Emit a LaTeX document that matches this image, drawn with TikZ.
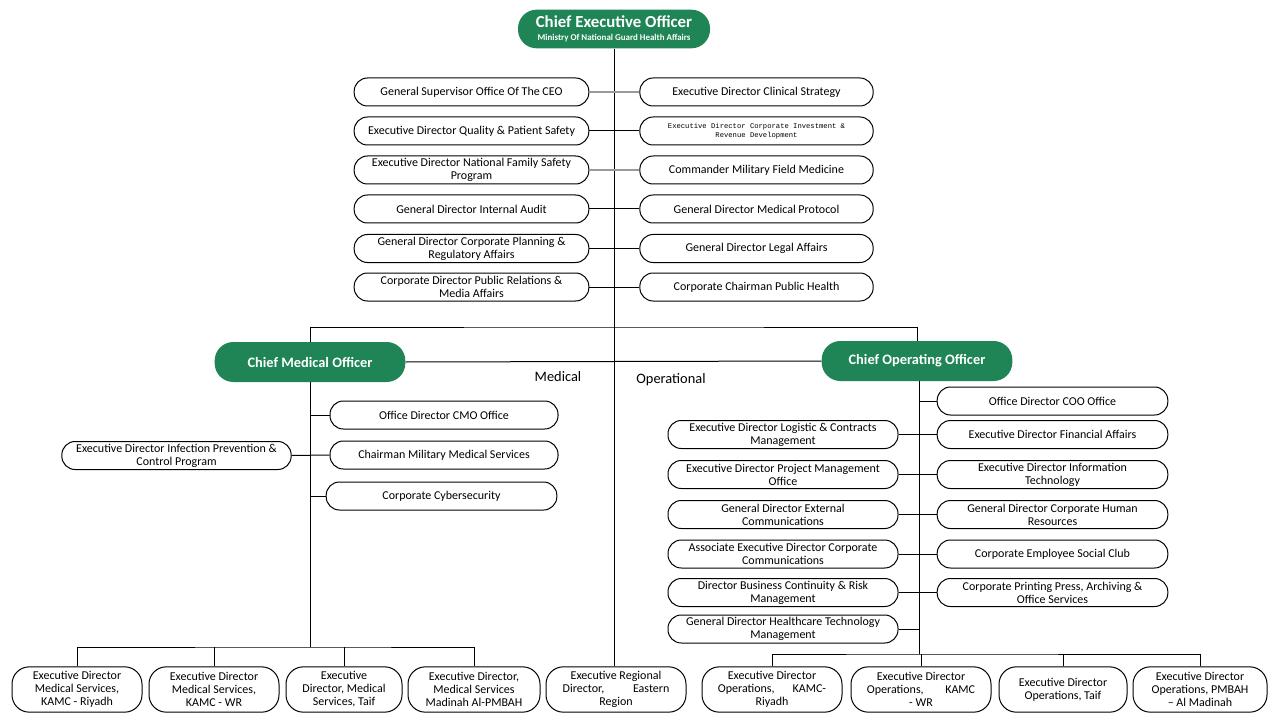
\documentclass[tikz,border=0pt]{standalone}
\usepackage{fontspec}
\setmainfont{Carlito}
\newfontfamily\tinymono{Liberation Mono}
\usetikzlibrary{positioning}

\definecolor{ngGreen}{RGB}{31,132,86}

\begin{document}
\begin{tikzpicture}[
    x=0.75pt, y=-0.75pt,
    unit/.style   = {draw, line width=0.75pt, rounded corners=10pt,
                     minimum height=21pt, inner xsep=2pt, inner ysep=0.5pt,
                     align=center, font=\fontsize{9}{9.8}\selectfont},
    chief/.style  = {fill=ngGreen, text=white, rounded corners=14pt,
                     minimum width=143pt, minimum height=30pt, align=center,
                     font=\bfseries\fontsize{10.8}{12}\selectfont},
    region/.style = {unit, rounded corners=13pt, minimum height=34pt},
    branch/.style = {font=\fontsize{10.8}{12}\selectfont},
    link/.style   = {line width=0.75pt},
    glink/.style  = {line width=1.5pt, draw=gray!80}
]
\useasboundingbox (0,0) rectangle (1280,720);

% ========= top level =========
\node[chief, minimum width=144pt, minimum height=29pt, inner ysep=1pt] (ceo) at (614,29)
    {{\fontsize{12.6}{13}\selectfont Chief Executive Officer}\\[-2pt]
     {\fontsize{6.7}{7}\selectfont Ministry Of National Guard Health Affairs}};
\node[chief] (cmo) at (310,362) {Chief Medical Officer};
\node[chief] (coo) at (917,361) {Chief Operating Officer};

% ========= CEO office: two columns =========
\node[unit, minimum width=176pt] (gsup)  at (471.5,92)    {General Supervisor Office Of The CEO};
\node[unit, minimum width=176pt] (qps)   at (471.5,131)   {Executive Director Quality \& Patient Safety};
\node[unit, minimum width=176pt] (nfsp)  at (471.5,170)   {Executive Director National Family Safety\\Program};
\node[unit, minimum width=176pt] (audit) at (471.5,209)   {General Director Internal Audit};
\node[unit, minimum width=176pt] (plan)  at (471.5,248.5) {General Director Corporate Planning \&\\Regulatory Affairs};
\node[unit, minimum width=176pt] (prma)  at (471.5,287)   {Corporate Director Public Relations \&\\Media Affairs};

\node[unit, minimum width=175pt] (clin)  at (756.5,92)    {Executive Director Clinical Strategy};
\node[unit, minimum width=175pt, font=\tinymono\fontsize{5.4}{7}\selectfont] (invest) at (756.5,131)
    {Executive Director Corporate Investment \&\\Revenue Development};
\node[unit, minimum width=175pt] (field) at (756.5,170)   {Commander Military Field Medicine};
\node[unit, minimum width=175pt] (proto) at (756.5,209)   {General Director Medical Protocol};
\node[unit, minimum width=175pt] (legal) at (756.5,248.5) {General Director Legal Affairs};
\node[unit, minimum width=175pt] (pubh)  at (756.5,287)   {Corporate Chairman Public Health};

% ========= CMO office =========
\node[unit, minimum width=171pt] (cmooff) at (444,415)   {Office Director CMO Office};
\node[unit, minimum width=171pt] (milmed) at (444,455)   {Chairman Military Medical Services};
\node[unit, minimum width=173pt] (cyber)  at (441.5,496) {Corporate Cybersecurity};
\node[unit, minimum width=172pt] (ipc)    at (176.5,455.5) {Executive Director Infection Prevention \&\\Control Program};

% ========= COO office =========
\node[unit, minimum width=173pt] (coooff) at (1052.5,401)   {Office Director COO Office};
\node[unit, minimum width=173pt] (fin)    at (1052.5,434.5) {Executive Director Financial Affairs};
\node[unit, minimum width=173pt] (it)     at (1052.5,474.5) {Executive Director Information\\Technology};
\node[unit, minimum width=173pt] (hr)     at (1052.5,514.5) {General Director Corporate Human\\Resources};
\node[unit, minimum width=173pt] (club)   at (1052.5,554)   {Corporate Employee Social Club};
\node[unit, minimum width=173pt] (print)  at (1052.5,592.5) {Corporate Printing Press, Archiving \&\\Office Services};

\node[unit, minimum width=172.5pt] (logi)  at (783,434.5) {Executive Director Logistic \& Contracts\\Management};
\node[unit, minimum width=172.5pt] (pmo)   at (783,474.5) {Executive Director Project Management\\Office};
\node[unit, minimum width=172.5pt] (ext)   at (783,514.5) {General Director External\\Communications};
\node[unit, minimum width=172.5pt] (comm)  at (783,554)   {Associate Executive Director Corporate\\Communications};
\node[unit, minimum width=172.5pt] (risk)  at (783,592.5) {Director Business Continuity \& Risk\\Management};
\node[unit, minimum width=172.5pt] (htm)   at (783,629)   {General Director Healthcare Technology\\Management};

% ========= regions =========
\node[region, minimum width=97.5pt] (medriy) at (77,689.5)  {Executive Director\\Medical Services,\\KAMC - Riyadh};
\node[region, minimum width=97.5pt] (medwr)  at (214,689.5) {Executive Director\\Medical Services,\\KAMC - WR};
\node[region, minimum width=87pt]   (medtai) at (344,689.5) {Executive\\Director, Medical\\Services, Taif};
\node[region, minimum width=99pt]   (medmad) at (474,689.5) {Executive Director,\\Medical Services\\Madinah Al-PMBAH};
\node[region, minimum width=105pt]  (east)   at (616,689.5) {Executive Regional\\Director,\hspace{2.4em}Eastern\\Region};
\node[region, minimum width=105pt]  (opriy)  at (772,689.5) {Executive Director\\Operations,\hspace{1.5em}KAMC-\\Riyadh};
\node[region, minimum width=105pt]  (opwr)   at (921,689.5) {Executive Director\\Operations,\hspace{1.8em}KAMC\\- WR};
\node[region, minimum width=96pt]   (optai)  at (1063,689.5) {Executive Director\\Operations, Taif};
\node[region, minimum width=100.5pt] (opmad) at (1200,689.5) {Executive Director\\Operations, PMBAH\\-- Al Madinah};

\node[branch] (medlbl) at (558,377) {Medical};
\node[branch] (oplbl)  at (671,380) {Operational};

% ========= connectors =========
\coordinate (split)  at (614,327);
\coordinate (cmobar) at (310,647);
\coordinate (coobar) at (919,654);

\draw[link] (ceo.south) -- (ceo.south |- east.north);
\draw[link] (cmo.north) |- (split) -| (coo.north);
\draw[link] (cmo.east) -- (coo.west);

\draw[glink] (gsup.east)  -- (clin.west);
\draw[link]  (qps.east)   -- (invest.west);
\draw[glink] (nfsp.east)  -- (field.west);
\draw[link]  (audit.east) -- (proto.west);
\draw[link]  (plan.east)  -- (legal.west);
\draw[link]  (prma.east)  -- (pubh.west);

\draw[link] (cmo.south) -- (cmobar);
\draw[link] (medriy.north) |- (cmobar) -| (medmad.north);
\draw[link] (medwr.north)  -- (medwr.north |- cmobar);
\draw[link] (medtai.north) -- (medtai.north |- cmobar);
\draw[link] (cmooff.west -| cmo.south) -- (cmooff.west);
\draw[link] (ipc.east) -- (milmed.west);
\draw[link] (cyber.west -| cmo.south) -- (cyber.west);

\draw[link] (coo.south -| coobar) -- (coobar);
\draw[link] (opriy.north) |- (coobar) -| (opmad.north);
\draw[link] (opwr.north)  -- (opwr.north |- coobar);
\draw[link] (optai.north) -- (optai.north |- coobar);
\draw[link] (coooff.west -| coobar) -- (coooff.west);
\draw[link] (logi.east) -- (fin.west);
\draw[link] (pmo.east)  -- (it.west);
\draw[link] (ext.east)  -- (hr.west);
\draw[link] (comm.east) -- (club.west);
\draw[link] (risk.east) -- (print.west);
\draw[link] (htm.east)  -- (htm.east -| coobar);
\end{tikzpicture}
\end{document}
